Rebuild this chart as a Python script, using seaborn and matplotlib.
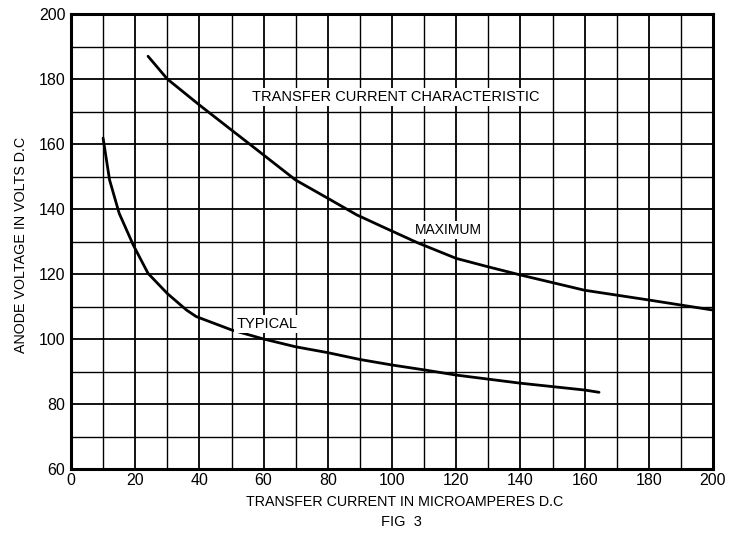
import matplotlib
matplotlib.use("Agg")
import matplotlib.pyplot as plt
import seaborn as sns
import pandas as pd
from matplotlib.ticker import MultipleLocator

# Data
max_x = [24, 30, 40, 50, 56, 70, 80, 89, 98, 108, 120, 130, 140, 160, 180, 200]
max_y = [187, 180, 172, 164.3, 159.7, 148.9, 143.3, 138.2, 134.1, 129.6, 124.8, 122.2, 119.7, 115, 112, 108.9]

typ_x = [10, 12, 15, 19.4, 24, 30, 36, 39, 50, 60, 70, 80, 90, 100, 110, 120, 140, 160, 164.5]
typ_y = [161.8, 149, 138.7, 128.9, 120.2, 114, 108.9, 106.9, 102.8, 100, 97.6, 95.8, 93.7, 92, 90.5, 88.9, 86.4, 84.3, 83.6]

x_ticks = [0, 20, 40, 60, 80, 100, 120, 140, 160, 180, 200]
y_ticks = [60, 80, 100, 120, 140, 160, 180, 200]

df = pd.concat([
    pd.DataFrame({"current": max_x, "voltage": max_y, "curve": "MAXIMUM"}),
    pd.DataFrame({"current": typ_x, "voltage": typ_y, "curve": "TYPICAL"}),
])

sns.set_theme(style="white")
plt.rcParams["font.family"] = ["Liberation Sans", "DejaVu Sans"]
plt.rcParams["text.color"] = "black"

fig = plt.figure(figsize=(7.29, 5.35), dpi=100)
ax = fig.add_axes([71/729, 1 - 469/535, (713 - 71)/729, (469 - 14)/535])

ax.set_xlim(0, 200)
ax.set_ylim(60, 200)
ax.xaxis.set_major_locator(MultipleLocator(20))
ax.xaxis.set_minor_locator(MultipleLocator(10))
ax.yaxis.set_major_locator(MultipleLocator(20))
ax.yaxis.set_minor_locator(MultipleLocator(10))
ax.grid(which="major", color="black", linewidth=1.3)
ax.grid(which="minor", color="black", linewidth=1.0)
ax.set_axisbelow(True)

sns.lineplot(data=df, x="current", y="voltage", units="curve", estimator=None,
             color="black", linewidth=2.0, sort=False, ax=ax, legend=False)

ax.set_xticks(x_ticks)
ax.set_yticks(y_ticks)
ax.set_xticklabels([str(v) for v in x_ticks])
ax.set_yticklabels([str(v) for v in y_ticks])
ax.tick_params(axis="both", which="both", length=0, labelsize=11.5, colors="black")
ax.tick_params(axis="x", pad=3)
ax.tick_params(axis="y", pad=4)

for s in ax.spines.values():
    s.set_visible(True)
    s.set_color("black")
    s.set_linewidth(2.2)

ax.set_xlabel("")
ax.set_ylabel("")

box = dict(facecolor="white", edgecolor="none", pad=1.5)
ax.text(56.5, 174.6, "TRANSFER CURRENT CHARACTERISTIC", fontsize=10.5, ha="left",
        va="center", bbox=box, zorder=5, color="black")
ax.text(107, 133.5, "MAXIMUM", fontsize=10, ha="left", va="center", bbox=box, zorder=5,
        color="black")
ax.text(51.5, 104.6, "TYPICAL", fontsize=10.5, ha="left", va="center", bbox=box, zorder=5,
        color="black")

fig.text(405/729, 1 - 502/535, "TRANSFER CURRENT IN MICROAMPERES D.C", fontsize=10.3,
         ha="center", va="center", color="black")
fig.text(401/729, 1 - 522/535, "FIG  3", fontsize=10.5, ha="center", va="center",
         color="black")
fig.text(21/729, 1 - 245/535, "ANODE VOLTAGE IN VOLTS D.C", fontsize=10.3,
         rotation=90, ha="center", va="center", color="black")

fig.savefig("out.png", dpi=100)
